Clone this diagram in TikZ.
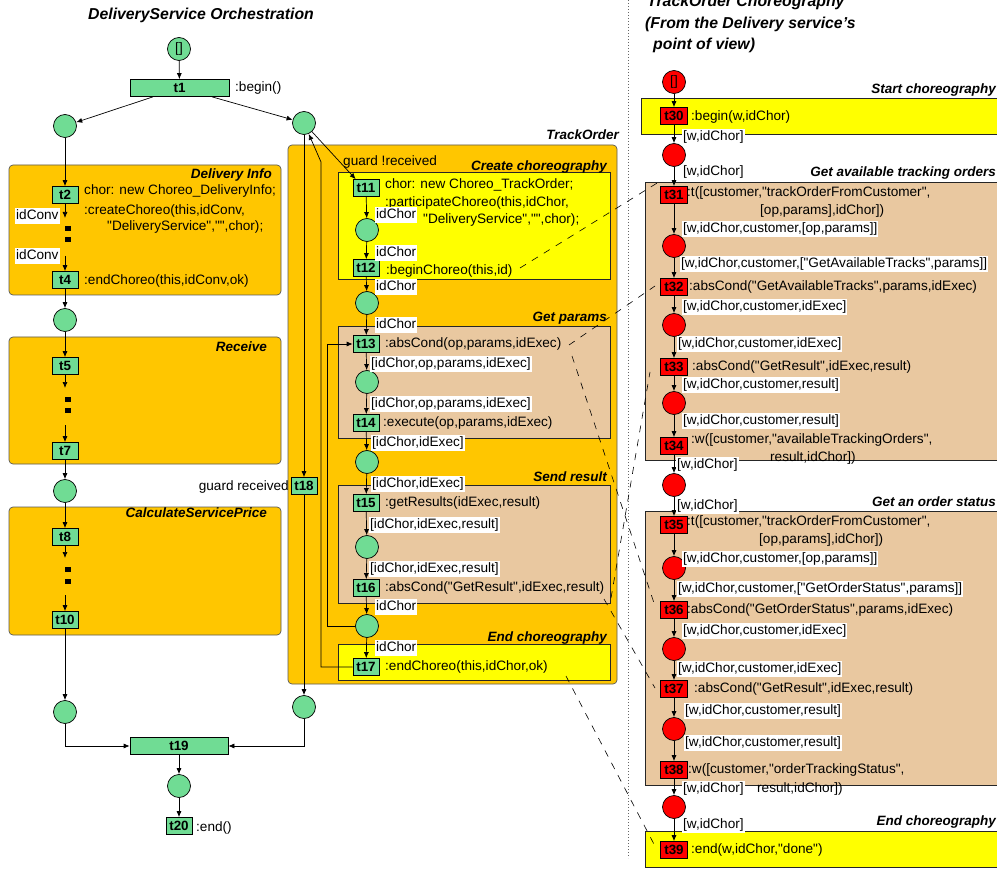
\documentclass[tikz,border=0pt]{standalone}
\usepackage{fontspec}
\setmainfont{Liberation Sans}[Ligatures=TeXOff]
\usetikzlibrary{arrows.meta}
\definecolor{pgreen}{RGB}{112,220,148}
\definecolor{orng}{RGB}{255,198,0}
\definecolor{boxtan}{RGB}{233,200,160}
\definecolor{yel}{RGB}{255,255,0}
\newcommand{\myfs}[1]{\fontsize{#1}{#1}\selectfont}
\begin{document}
\begin{tikzpicture}[x=1pt,y=-1pt,
  place/.style={circle,draw=black,fill=pgreen,minimum size=23pt,inner sep=0pt,line width=0.7pt,font=\myfs{13.6}},
  rplace/.style={place,fill=red},
  trans/.style={draw=black,fill=pgreen,minimum width=26pt,minimum height=17pt,inner sep=0pt,line width=0.7pt,font=\myfs{13.4}\bfseries},
  rtrans/.style={trans,fill=red,minimum width=27pt},
  txt/.style={anchor=west,inner sep=0pt,font=\myfs{13.6},text height=10pt,text depth=3pt},
  wlab/.style={txt,fill=white,inner xsep=1pt,inner ysep=1.5pt},
  btitle/.style={anchor=east,inner sep=0pt,font=\myfs{13.5}\bfseries\itshape,text height=10pt,text depth=3pt},
  mtitle/.style={anchor=base west,inner sep=0pt,font=\myfs{15.8}\bfseries\itshape},
  arr/.style={-{Latex[length=6pt,width=5pt]},line width=0.7pt},
  grp/.style={draw=black!65,fill=orng,rounded corners=4pt,line width=0.7pt},
  sub/.style={draw=black!85,line width=0.8pt},
  dsh/.style={dash pattern=on 7pt off 7pt,line width=0.6pt},
  dotsq/.style={fill=black,minimum width=6pt,minimum height=5pt,inner sep=0pt},
]
\useasboundingbox (0,0) rectangle (997,869);

% ---------- group boxes ----------
\draw[grp] (9,165) rectangle (281,295);
\draw[grp] (9,337) rectangle (281,464);
\draw[grp] (9,507) rectangle (281,635);
\draw[grp] (288,145) rectangle (617,684);
\draw[sub,fill=yel] (338,172) rectangle (610,279);
\draw[sub,fill=boxtan] (338,326) rectangle (610,438);
\draw[sub,fill=boxtan] (338,485) rectangle (610,603);
\draw[sub,fill=yel] (338,644) rectangle (610,680);
\draw[sub,fill=yel] (641,98) rectangle (1002,134);
\draw[sub,fill=boxtan] (645,182) rectangle (1002,460);
\draw[sub,fill=boxtan] (645,511) rectangle (1002,785);
\draw[sub,fill=yel] (645,831) rectangle (1002,867);

% separator
\coordinate (sepA) at (628,0);
\coordinate (sepB) at (628,858);
\draw[black!60,line width=0.6pt,dash pattern=on 1pt off 2pt] (sepA) -- (sepB);

% ---------- titles ----------
\node[mtitle] (ttlOrch) at (88,20) {DeliveryService Orchestration};
\node[mtitle] (ttlCh1) at (647,7) {TrackOrder Choreography};
\node[mtitle] (ttlCh2) at (645,29) {(From the Delivery service’s};
\node[mtitle] (ttlCh3) at (653,50) {point of view)};
\node[btitle] (bDI) at (272,175) {Delivery Info};
\node[btitle] (bRe) at (267,348) {Receive};
\node[btitle] (bCS) at (267,514) {CalculateServicePrice};
\node[btitle] (bTO) at (619,136) {TrackOrder};
\node[btitle] (bCC) at (607,167) {Create choreography};
\node[btitle] (bGP) at (607,318) {Get params};
\node[btitle] (bSR) at (607,478) {Send result};
\node[btitle] (bEC) at (607,638) {End choreography};
\node[btitle] (bSC2) at (996,90) {Start choreography};
\node[btitle] (bGA2) at (996,173) {Get available tracking orders};
\node[btitle] (bGO2) at (996,503) {Get an order status};
\node[btitle] (bEC2) at (996,822) {End choreography};

% ---------- orchestration nodes ----------
\node[place] (p0) at (179,49) {[]};
\node[trans,minimum width=99pt] (t1) at (179.5,88) {t1};
\node[place] (p1) at (65,126) {};
\node[place] (p2) at (304,123) {};
\node[trans] (t2) at (65,195) {t2};
\node[dotsq] (q2a) at (68,229) {};
\node[dotsq] (q2b) at (68,240) {};
\node[trans] (t4) at (65,280) {t4};
\node[place] (p3) at (65,320) {};
\node[trans] (t5) at (65,366) {t5};
\node[dotsq] (q5a) at (68,399) {};
\node[dotsq] (q5b) at (68,410) {};
\node[trans] (t7) at (65,451) {t7};
\node[place] (p4) at (65,491) {};
\node[trans] (t8) at (65,537) {t8};
\node[dotsq] (q8a) at (68,569) {};
\node[dotsq] (q8b) at (68,581) {};
\node[trans] (t10) at (65,620) {t10};
\node[place] (p5) at (65,712) {};
\node[trans] (t18) at (304,486) {t18};
\node[place] (p6) at (304,707) {};
\node[trans,minimum width=98pt] (t19) at (179,746) {t19};
\node[place] (p7) at (179,786) {};
\node[trans] (t20) at (179,826) {t20};

% TrackOrder
\node[trans] (t11) at (366,188) {t11};
\node[place] (p8) at (367,230) {};
\node[trans] (t12) at (366,268) {t12};
\node[place] (p9) at (367,303) {};
\node[trans] (t13) at (366,344) {t13};
\node[place] (p10) at (367,382) {};
\node[trans] (t14) at (366,423) {t14};
\node[place] (p11) at (367,462) {};
\node[trans] (t15) at (366,503) {t15};
\node[place] (p12) at (367,547) {};
\node[trans] (t16) at (366,588) {t16};
\node[place] (p13) at (367,626) {};
\node[trans] (t17) at (366,667) {t17};

% choreography
\node[rplace] (p20) at (674,82) {[]};
\node[rtrans] (t30) at (674,116) {t30};
\node[rplace] (p21) at (674,155) {};
\node[rtrans] (t31) at (674,195) {t31};
\node[rplace] (p22) at (674,246) {};
\node[rtrans] (t32) at (674,287) {t32};
\node[rplace] (p23) at (674,325) {};
\node[rtrans] (t33) at (674,367) {t33};
\node[rplace] (p24) at (674,403) {};
\node[rtrans] (t34) at (674,446) {t34};
\node[rplace] (p25) at (674,485) {};
\node[rtrans] (t35) at (674,525) {t35};
\node[rplace] (p26) at (674,568) {};
\node[rtrans] (t36) at (674,610) {t36};
\node[rplace] (p27) at (674,649) {};
\node[rtrans] (t37) at (674,689) {t37};
\node[rplace] (p28) at (674,729) {};
\node[rtrans] (t38) at (674,770) {t38};
\node[rplace] (p29) at (674,807) {};
\node[rtrans] (t39) at (674,850) {t39};

% ---------- connectors ----------
\draw[arr] (p0) -- (t1);
\draw[arr] ([xshift=-26.5pt]t1.south) -- (p1);
\draw[arr] ([xshift=32.5pt]t1.south) -- (p2);
\draw[arr] (p1) -- (t2);
\coordinate (a2) at (65,218);
\coordinate (b2) at (65,256);
\draw[arr] (t2) -- (a2);
\draw[arr] (b2) -- (t4);
\draw[arr] (t4) -- (p3);
\draw[arr] (p3) -- (t5);
\coordinate (a5) at (65,388);
\coordinate (b5) at (65,425);
\draw[arr] (t5) -- (a5);
\draw[arr] (b5) -- (t7);
\draw[arr] (t7) -- (p4);
\draw[arr] (p4) -- (t8);
\coordinate (a8) at (65,558);
\coordinate (b8) at (65,595);
\draw[arr] (t8) -- (a8);
\draw[arr] (b8) -- (t10);
\draw[arr] (t10) -- (p5);
\draw[arr] (p5) |- (t19);
\draw[arr] (p6) |- (t19);
\draw[arr] (t19) -- (p7);
\draw[arr] (p7) -- (t20);
\draw[arr] (p2) -- (t18);
\draw[arr] (t18) -- (p6);
\draw[arr] (p2) -- ([xshift=3pt]t11.north west);
\coordinate (c1) at (321,667);
\coordinate (c2) at (321,162);
\draw[arr] (t17.west) -- (c1) -- (c2) -- (p2);
\coordinate (c3) at (327,626);
\coordinate (c4) at (327,344);
\draw[arr] (p13.west) -- (c3) -- (c4) -- (t13.west);

\foreach \a/\b in {t11/p8,p8/t12,t12/p9,p9/t13,t13/p10,p10/t14,t14/p11,p11/t15,t15/p12,p12/t16,t16/p13,p13/t17,
  p20/t30,t30/p21,p21/t31,t31/p22,p22/t32,t32/p23,p23/t33,t33/p24,p24/t34,t34/p25,p25/t35,t35/p26,p26/t36,t36/p27,p27/t37,t37/p28,p28/t38,t38/p29,p29/t39}
  \draw[arr] (\a) -- (\b);

% ---------- texts ----------
\node[txt] (x1) at (235,88) {:begin()};
\node[txt] (x2) at (84,191) {chor: new Choreo\_DeliveryInfo;};
\node[txt] (x3) at (84,211) {:createChoreo(this,idConv,};
\node[txt] (x4) at (107,227) {"DeliveryService","",chor);};
\node[txt] (x5) at (84,281) {:endChoreo(this,idConv,ok)};
\node[txt] (x6) at (196,828) {:end()};
\node[txt,anchor=east] (x7) at (289,487) {guard received};
\node[wlab] (l1) at (15,216) {idConv};
\node[wlab] (l2) at (15,256) {idConv};

\node[txt] (x8) at (343,162) {guard !received};
\node[txt] (x9) at (385,185) {chor: new Choreo\_TrackOrder;};
\node[txt] (x10) at (385,203) {:participateChoreo(this,idChor,};
\node[txt] (x11) at (423,220) {"DeliveryService","",chor);};
\node[txt] (x12) at (386,271) {:beginChoreo(this,id)};
\node[txt] (x13) at (385,344) {:absCond(op,params,idExec)};
\node[txt] (x14) at (383,423) {:execute(op,params,idExec)};
\node[txt] (x15) at (385,503) {:getResults(idExec,result)};
\node[txt] (x16) at (385,588) {:absCond("GetResult",idExec,result)};
\node[txt] (x17) at (385,667) {:endChoreo(this,idChor,ok)};
\node[wlab] (l3) at (375,215) {idChor};
\node[wlab] (l4) at (375,253) {idChor};
\node[wlab] (l5) at (375,287) {idChor};
\node[wlab] (l6) at (375,325) {idChor};
\node[wlab] (l7) at (370,364) {[idChor,op,params,idExec]};
\node[wlab] (l8) at (370,404) {[idChor,op,params,idExec]};
\node[wlab] (l9) at (371,443) {[idChor,idExec]};
\node[wlab] (l10) at (371,484) {[idChor,idExec]};
\node[wlab] (l11) at (369,525) {[idChor,idExec,result]};
\node[wlab] (l12) at (369,569) {[idChor,idExec,result]};
\node[wlab] (l13) at (375,607) {idChor};
\node[wlab] (l14) at (375,648) {idChor};

\node[txt] (y1) at (691,117) {:begin(w,idChor)};
\node[txt] (y2) at (687,193) {:t([customer,"trackOrderFromCustomer",};
\node[txt] (y3) at (760,211) {[op,params],idChor])};
\node[txt] (y4) at (689,287) {:absCond("GetAvailableTracks",params,idExec)};
\node[txt] (y5) at (692,367) {:absCond("GetResult",idExec,result)};
\node[txt] (y6) at (691,440) {:w([customer,"availableTrackingOrders",};
\node[txt] (y7) at (770,458) {result,idChor])};
\node[txt] (y8) at (687,522) {:t([customer,"trackOrderFromCustomer",};
\node[txt] (y9) at (759,540) {[op,params],idChor])};
\node[txt] (y10) at (687,610) {:absCond("GetOrderStatus",params,idExec)};
\node[txt] (y11) at (694,689) {:absCond("GetResult",idExec,result)};
\node[txt] (y12) at (688,770) {:w([customer,"orderTrackingStatus",};
\node[txt] (y13) at (757,789) {result,idChor])};
\node[txt] (y14) at (691,850) {:end(w,idChor,"done")};
\node[wlab] (m1) at (682,137) {[w,idChor]};
\node[wlab] (m2) at (682,172) {[w,idChor]};
\node[wlab] (m3) at (682,229) {[w,idChor,customer,[op,params]]};
\node[wlab] (m4) at (680,264) {[w,idChor,customer,["GetAvailableTracks",params]]};
\node[wlab] (m5) at (682,307) {[w,idChor,customer,idExec]};
\node[wlab] (m6) at (677,344) {[w,idChor,customer,idExec]};
\node[wlab] (m7) at (682,385) {[w,idChor,customer,result]};
\node[wlab] (m8) at (682,421) {[w,idChor,customer,result]};
\node[wlab] (m9) at (676,465) {[w,idChor]};
\node[wlab] (m10) at (676,506) {[w,idChor]};
\node[wlab] (m11) at (682,559) {[w,idChor,customer,[op,params]]};
\node[wlab] (m12) at (677,589) {[w,idChor,customer,["GetOrderStatus",params]]};
\node[wlab] (m13) at (682,631) {[w,idChor,customer,idExec]};
\node[wlab] (m14) at (677,669) {[w,idChor,customer,idExec]};
\node[wlab] (m15) at (684,711) {[w,idChor,customer,result]};
\node[wlab] (m16) at (684,743) {[w,idChor,customer,result]};
\node[wlab] (m17) at (682,789) {[w,idChor]};
\node[wlab] (m18) at (682,825) {[w,idChor]};

% ---------- dashed correspondences ----------
\coordinate (d1a) at (520,268); \coordinate (d1b) at (662,180);
\coordinate (d2a) at (569,345); \coordinate (d2b) at (655,286);
\coordinate (d3a) at (572,356); \coordinate (d3b) at (655,606);
\coordinate (d4a) at (611,598); \coordinate (d4b) at (650,372);
\coordinate (d5a) at (604,599); \coordinate (d5b) at (655,688);
\coordinate (d6a) at (566,676); \coordinate (d6b) at (656,848);
\draw[dsh] (d1a) -- (d1b);
\draw[dsh] (d2a) -- (d2b);
\draw[dsh] (d3a) -- (d3b);
\draw[dsh] (d4a) -- (d4b);
\draw[dsh] (d5a) -- (d5b);
\draw[dsh] (d6a) -- (d6b);
\end{tikzpicture}
\end{document}
